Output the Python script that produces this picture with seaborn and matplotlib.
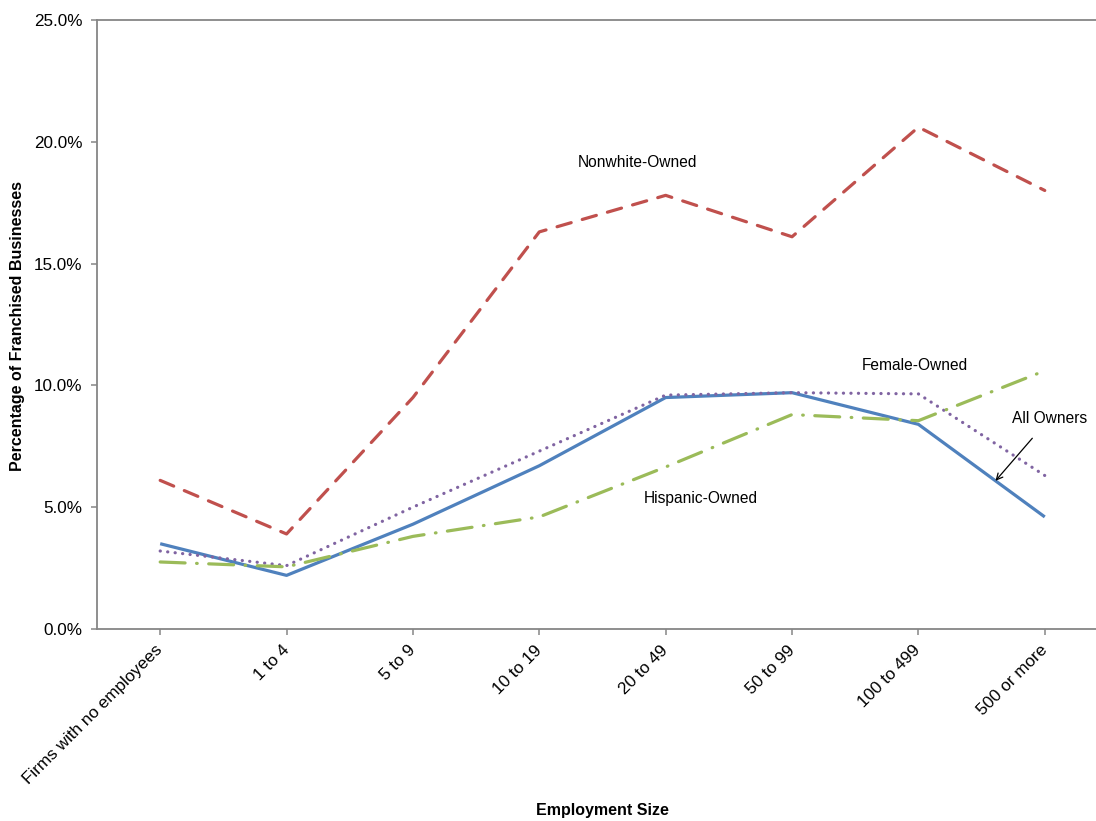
import matplotlib
matplotlib.use("Agg")
import matplotlib.pyplot as plt
import matplotlib.ticker as mticker
import pandas as pd
import seaborn as sns

# Employment-size classes along the x axis
sizes = ["Firms with no employees", "1 to 4", "5 to 9", "10 to 19",
         "20 to 49", "50 to 99", "100 to 499", "500 or more"]

# Share of franchised businesses (fraction) by owner group
nonwhite = [0.061, 0.039, 0.095, 0.163, 0.178, 0.161, 0.206, 0.180]
all_owners = [0.035, 0.022, 0.043, 0.067, 0.095, 0.097, 0.084, 0.046]
female = [0.032, 0.026, 0.050, 0.073, 0.096, 0.097, 0.0965, 0.063]
hispanic = [0.0275, 0.0255, 0.038, 0.046, 0.0665, 0.088, 0.0855, 0.106]

groups = ["Nonwhite-Owned", "All Owners", "Female-Owned", "Hispanic-Owned"]
series = [nonwhite, all_owners, female, hispanic]

df = pd.DataFrame({
    "size": sizes * len(groups),
    "group": [g for g in groups for _ in sizes],
    "share": [v for s in series for v in s],
})

palette = {
    "Nonwhite-Owned": "#C0504D",
    "All Owners": "#4F81BD",
    "Female-Owned": "#8064A2",
    "Hispanic-Owned": "#9BBB59",
}
dashes = {
    "Nonwhite-Owned": (4.6, 3.6),
    "All Owners": "",
    "Female-Owned": (0.05, 2.3),
    "Hispanic-Owned": (7.8, 3.6, 0.2, 3.6),
}

sns.set_theme(style="white")
plt.rcParams["font.family"] = ["Liberation Sans", "DejaVu Sans"]

fig = plt.figure(figsize=(10.96, 8.21), dpi=100)
ax = fig.add_axes([0.0885, 0.2339, 0.9224, 0.7418])

sns.lineplot(data=df, x="size", y="share", hue="group", style="group",
             hue_order=groups, style_order=groups, palette=palette,
             dashes=dashes, linewidth=2.3, sort=False, legend=False,
             dash_capstyle="round", solid_capstyle="butt", ax=ax)

ax.set_xlim(-0.5, len(sizes) - 0.5)
ax.set_ylim(0, 0.25)
ax.set_yticks([0, 0.05, 0.10, 0.15, 0.20, 0.25])
ax.yaxis.set_major_formatter(mticker.PercentFormatter(xmax=1, decimals=1))

tick_fs = 12.3
ax.set_xticks(range(len(sizes)))
ax.set_xticklabels(sizes, rotation=45, ha="right", va="center",
                   rotation_mode="anchor", fontsize=tick_fs, color="black")
for lbl in ax.get_yticklabels():
    lbl.set_fontsize(tick_fs)
    lbl.set_color("black")

spine_color = "#868686"
for side in ["left", "bottom", "top"]:
    ax.spines[side].set_visible(True)
    ax.spines[side].set_color(spine_color)
    ax.spines[side].set_linewidth(1.3)
ax.spines["right"].set_visible(False)

ax.tick_params(axis="both", which="major", direction="out", length=4.5,
               width=1.1, color=spine_color, left=True, bottom=True)
ax.tick_params(axis="x", pad=9)
ax.tick_params(axis="y", pad=6)

ax.set_xlabel("")
ax.set_ylabel("")
fig.text(602 / 1096, 1 - 810 / 821, "Employment Size", fontsize=11.5,
         fontweight="bold", color="black", ha="center", va="center")
fig.text(18 / 1096, 1 - 326 / 821, "Percentage of Franchised Businesses",
         fontsize=11.5, fontweight="bold", color="black", ha="center",
         va="center", rotation=90)

# Series labels placed next to their lines
label_fs = 11.2
label_kw = dict(fontsize=label_fs, color="black", ha="center", va="center")
ax.text(3.78, 0.1913, "Nonwhite-Owned", **label_kw)
ax.text(5.97, 0.108, "Female-Owned", **label_kw)
ax.text(4.28, 0.0534, "Hispanic-Owned", **label_kw)
ax.annotate("All Owners", xy=(6.61, 0.0608), xytext=(7.04, 0.0866),
            fontsize=label_fs, color="black", ha="center", va="center",
            arrowprops=dict(arrowstyle="->", color="black", lw=0.9,
                            shrinkA=9, shrinkB=0))

fig.savefig("out.png", dpi=100)
